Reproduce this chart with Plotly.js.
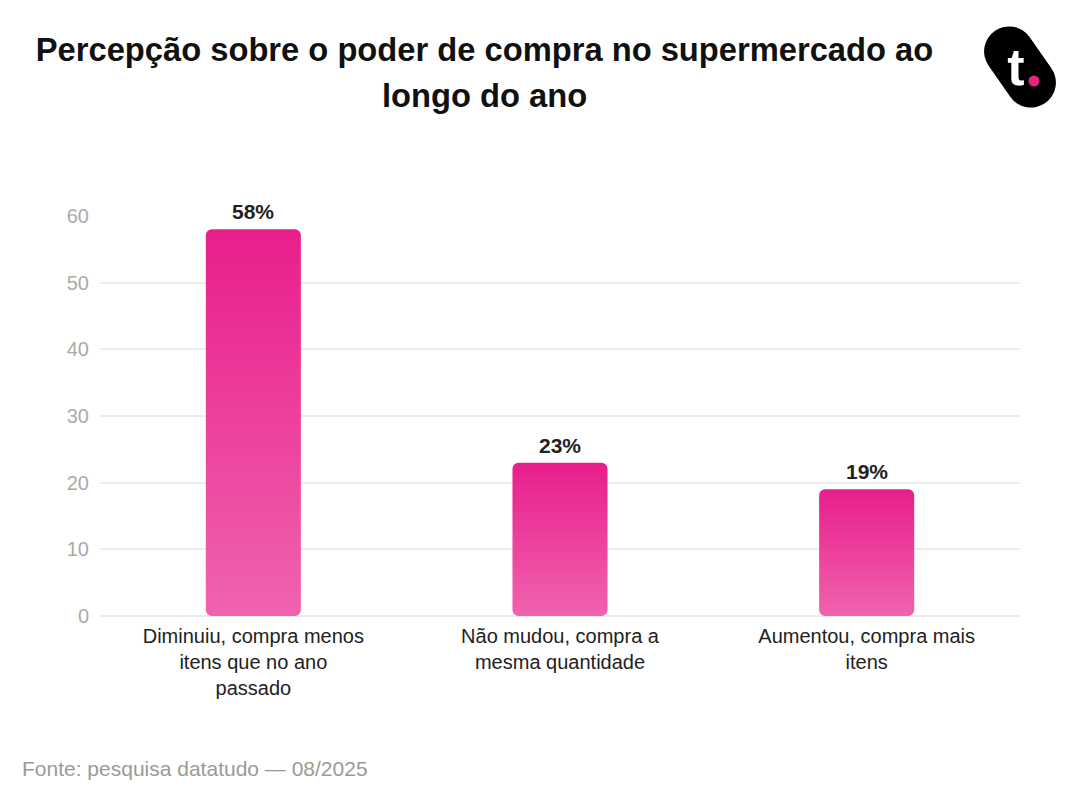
<!DOCTYPE html>
<html>
<head>
<meta charset="utf-8">
<script src="https://cdn.plot.ly/plotly-3.0.1.min.js"></script>
<style>
html,body{margin:0;padding:0;background:#fff;}
#chart{width:1080px;height:806px;}
</style>
</head>
<body>
<div id="chart"></div>
<script>
var categories = ["Diminuiu", "Não mudou", "Aumentou"];
var tickLabels = [
  "Diminuiu, compra menos<br>itens que no ano<br>passado",
  "Não mudou, compra a<br>mesma quantidade",
  "Aumentou, compra mais<br>itens"
];
var values = [58, 23, 19];
var yTicks = [0, 10, 20, 30, 40, 50, 60];
var titleLines = ["Percepção sobre o poder de compra no supermercado ao", "longo do ano"];
var sourceText = "Fonte: pesquisa datatudo — 08/2025";

var FONT = "Liberation Sans, Arial, Helvetica, sans-serif";

var logoSvg = '<svg xmlns="http://www.w3.org/2000/svg" width="90" height="90" viewBox="0 0 90 90">' +
  '<g transform="translate(45,45) rotate(-35)"><rect x="-25" y="-44" width="50" height="88" rx="25" ry="25" fill="#000"/></g>' +
  '<text x="41" y="63" text-anchor="middle" font-family="Liberation Sans, Arial, sans-serif" font-weight="bold" font-size="52" fill="#fff">t</text>' +
  '<circle cx="59" cy="59" r="5.5" fill="#e5267f"/>' +
  '</svg>';
var logoUri = 'data:image/svg+xml;charset=utf-8,' + encodeURIComponent(logoSvg);

var trace = {
  type: 'bar',
  x: categories,
  y: values,
  width: 0.31,
  marker: { color: '#EC3A98', cornerradius: 6, line: { width: 0 } },
  hoverinfo: 'skip'
};

var annotations = values.map(function (v, i) {
  return {
    x: categories[i], y: v, xref: 'x', yref: 'y',
    text: '<b>' + v + '%</b>', showarrow: false,
    yanchor: 'bottom', yshift: 4,
    font: { family: FONT, size: 21, color: '#222222' }
  };
});
annotations.push({
  xref: 'paper', yref: 'paper', x: (484.5 - 100) / 920, y: (616 - 96) / 400,
  xanchor: 'center', yanchor: 'middle', showarrow: false,
  text: '<b>' + titleLines[1] + '</b>',
  font: { family: FONT, size: 32.7, color: '#111111' }
});
annotations.push({
  xref: 'paper', yref: 'paper', x: -0.087, y: -0.38,
  xanchor: 'left', yanchor: 'middle', showarrow: false,
  text: sourceText,
  font: { family: FONT, size: 21, color: '#9b9b93' }
});

var layout = {
  width: 1080, height: 806,
  margin: { l: 100, r: 60, t: 216, b: 190 },
  paper_bgcolor: '#ffffff', plot_bgcolor: '#ffffff',
  showlegend: false,
  title: {
    text: '<b>' + titleLines[0] + '</b>',
    x: 484.5 / 1080, xanchor: 'center', xref: 'container',
    y: 1 - 50 / 806, yanchor: 'middle', yref: 'container',
    font: { family: FONT, size: 32.7, color: '#111111' }
  },
  xaxis: {
    type: 'category',
    range: [-0.5, 2.5],
    tickvals: categories, ticktext: tickLabels,
    showgrid: false, zeroline: false, showline: false, ticks: '',
    ticklabelstandoff: 6,
    tickfont: { family: FONT, size: 20, color: '#222222' },
    fixedrange: true
  },
  yaxis: {
    range: [0, 60],
    tickvals: yTicks,
    showgrid: true, gridcolor: '#ededed', gridwidth: 2,
    zeroline: true, zerolinecolor: '#ededed', zerolinewidth: 2,
    showline: false, ticks: '',
    ticklabelstandoff: 10,
    tickfont: { family: FONT, size: 20, color: '#aaaaaa' },
    fixedrange: true
  },
  annotations: annotations,
  images: [{
    source: logoUri, xref: 'paper', yref: 'paper',
    x: (975 - 100) / 920, y: (616 - 22) / 400,
    sizex: 90 / 920, sizey: 90 / 400,
    xanchor: 'left', yanchor: 'top', sizing: 'stretch', layer: 'above'
  }],
  bargap: 0.69
};

Plotly.newPlot('chart', [trace], layout, { displayModeBar: false, staticPlot: true }).then(function (gd) {
  var svg = gd.querySelector('.main-svg');
  var defs = svg.querySelector('defs');
  var ns = 'http://www.w3.org/2000/svg';
  var grad = document.createElementNS(ns, 'linearGradient');
  grad.setAttribute('id', 'barGrad');
  grad.setAttribute('x1', '0'); grad.setAttribute('y1', '0');
  grad.setAttribute('x2', '0'); grad.setAttribute('y2', '1');
  [['0', '#E91E8C'], ['1', '#F063AE']].forEach(function (s) {
    var st = document.createElementNS(ns, 'stop');
    st.setAttribute('offset', s[0]);
    st.setAttribute('stop-color', s[1]);
    grad.appendChild(st);
  });
  defs.appendChild(grad);
  gd.querySelectorAll('.bars .point path').forEach(function (p) {
    var b = p.getBBox();
    var r = 6, x = b.x, y = b.y, w = b.width, h = b.height;
    var d = 'M' + (x + r) + ',' + y + 'H' + (x + w - r) + 'A' + r + ',' + r + ' 0 0 1 ' + (x + w) + ',' + (y + r) +
      'V' + (y + h - r) + 'A' + r + ',' + r + ' 0 0 1 ' + (x + w - r) + ',' + (y + h) +
      'H' + (x + r) + 'A' + r + ',' + r + ' 0 0 1 ' + x + ',' + (y + h - r) +
      'V' + (y + r) + 'A' + r + ',' + r + ' 0 0 1 ' + (x + r) + ',' + y + 'Z';
    p.setAttribute('d', d);
    p.style.fill = 'url(#barGrad)';
    p.style.fillOpacity = '1';
  });
});
</script>
</body>
</html>
